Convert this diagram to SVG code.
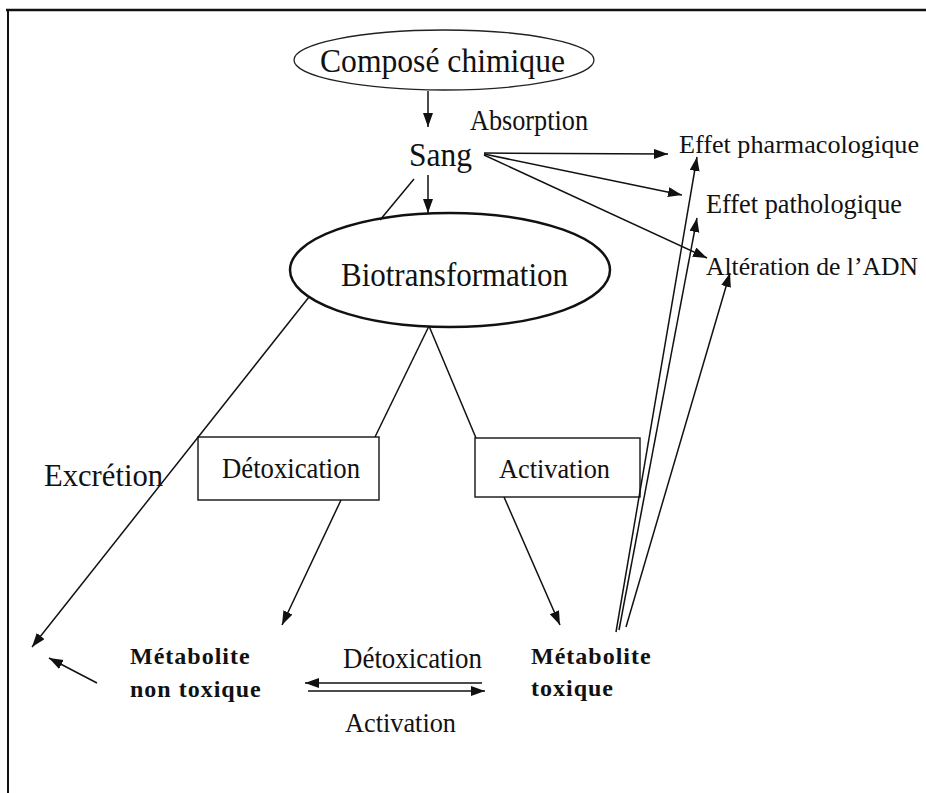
<svg xmlns="http://www.w3.org/2000/svg" width="926" height="793" viewBox="0 0 926 793">
<style>
text{font-family:'Liberation Serif','DejaVu Serif',serif;fill:#111}
.b{font-weight:bold;letter-spacing:1px}
.c{stroke:#111;stroke-width:1.5;fill:none}
.ca{stroke:#111;stroke-width:1.5;fill:none;marker-end:url(#ah)}
.box{fill:#fff;stroke:#222;stroke-width:1.5}
</style>
<defs>
<marker id="ah" markerWidth="15" markerHeight="11" refX="14" refY="5" orient="auto" markerUnits="userSpaceOnUse">
<path d="M0,0 L14,5 L0,10 z" fill="#111"/>
</marker>
</defs>
<rect width="926" height="793" fill="#fff"/>
<g id="frame">
<line x1="6" y1="10" x2="926" y2="10" stroke="#111" stroke-width="2.5"/>
<line x1="8" y1="10" x2="8" y2="793" stroke="#111" stroke-width="2"/>
</g>
<g id="compose">
<ellipse cx="444" cy="60" rx="150" ry="30" fill="#fff" stroke="#222" stroke-width="1.3"/>
<text x="320" y="72" font-size="33" textLength="245" lengthAdjust="spacingAndGlyphs">Composé chimique</text>
</g>
<g id="absorption"><text x="470" y="130" font-size="29" textLength="118" lengthAdjust="spacingAndGlyphs">Absorption</text></g>
<g id="sang"><text x="409" y="166" font-size="33" textLength="63" lengthAdjust="spacingAndGlyphs">Sang</text></g>
<g id="pharmaco"><text x="679" y="153" font-size="26.2" textLength="240" lengthAdjust="spacingAndGlyphs">Effet pharmacologique</text></g>
<g id="patho"><text x="706" y="213" font-size="27" textLength="196" lengthAdjust="spacingAndGlyphs">Effet pathologique</text></g>
<g id="adn"><text x="706" y="275" font-size="25.8" textLength="212" lengthAdjust="spacingAndGlyphs">Altération de l’ADN</text></g>
<g id="biotransformation">
<ellipse cx="450" cy="270" rx="160" ry="57" fill="#fff" stroke="#111" stroke-width="2.5"/>
<text x="341" y="286" font-size="33" textLength="227" lengthAdjust="spacingAndGlyphs">Biotransformation</text>
</g>
<g id="excretion"><text x="44" y="486" font-size="32" textLength="119" lengthAdjust="spacingAndGlyphs">Excrétion</text></g>
<g id="detox-box">
<rect class="box" x="198" y="437" width="181" height="63"/>
<text x="222" y="478" font-size="28.5" textLength="138" lengthAdjust="spacingAndGlyphs">Détoxication</text>
</g>
<g id="activ-box">
<rect class="box" x="475" y="438" width="165" height="59"/>
<text x="499" y="478" font-size="28" textLength="111" lengthAdjust="spacingAndGlyphs">Activation</text>
</g>
<g id="met-non-tox">
<text class="b" x="130" y="664" font-size="24">Métabolite</text>
<text class="b" x="130" y="697" font-size="24">non toxique</text>
</g>
<g id="met-tox">
<text class="b" x="531" y="664" font-size="24">Métabolite</text>
<text class="b" x="531" y="696" font-size="24">toxique</text>
</g>
<g id="labels-mid">
<text x="343" y="668" font-size="28.5" textLength="139" lengthAdjust="spacingAndGlyphs">Détoxication</text>
<text x="345" y="732" font-size="28" textLength="111" lengthAdjust="spacingAndGlyphs">Activation</text>
</g>
<g id="connectors">
<line class="ca" x1="428" y1="91" x2="428" y2="127"/>
<line class="ca" x1="428" y1="175" x2="428" y2="213"/>
<line class="ca" x1="484" y1="153" x2="668" y2="154"/>
<line class="ca" x1="484" y1="154" x2="682" y2="195"/>
<line class="ca" x1="484" y1="155" x2="707" y2="258"/>
<line class="c" x1="414" y1="179" x2="380" y2="220"/>
<line class="ca" x1="309" y1="297" x2="32" y2="647"/>
<line class="c" x1="429" y1="326" x2="375" y2="437"/>
<line class="c" x1="429" y1="326" x2="476" y2="438"/>
<line class="ca" x1="341" y1="500" x2="282" y2="625"/>
<line class="ca" x1="504" y1="497" x2="560" y2="625"/>
<line class="ca" x1="616" y1="632" x2="697" y2="157"/>
<line class="ca" x1="619" y1="630" x2="697" y2="218"/>
<line class="ca" x1="626" y1="627" x2="730" y2="273"/>
<line class="ca" x1="97" y1="683" x2="49" y2="658"/>
<line class="ca" x1="482" y1="683" x2="305" y2="683" stroke-width="2"/>
<line class="ca" x1="308" y1="691" x2="485" y2="691" stroke-width="2"/>
</g>
</svg>
